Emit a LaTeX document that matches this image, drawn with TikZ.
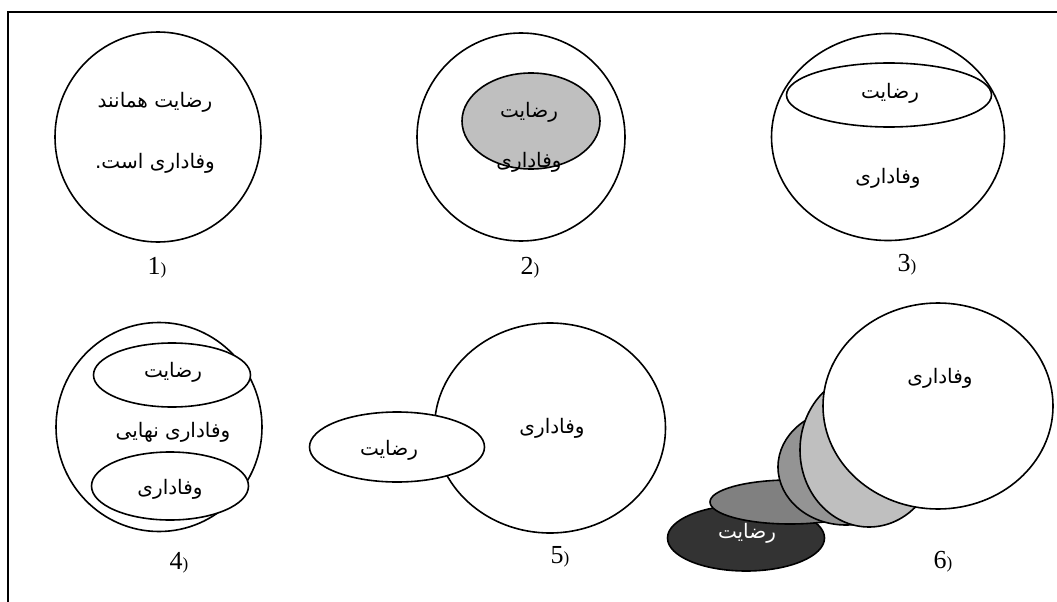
\documentclass[tikz,border=0pt]{standalone}
\usepackage{fontspec}
\setmainfont{Liberation Serif}
\newfontfamily\fafont[Script=Arabic]{DejaVu Sans}
\TeXXeTstate=1
\usetikzlibrary{shapes.geometric}
\newcommand{\fatxt}[1]{{\fafont\fontsize{20}{23}\selectfont\beginR #1\endR}}
\newcommand{\numlbl}[1]{{\fontsize{26}{28}\selectfont #1{\fontsize{17}{20}\selectfont)}}}
\tikzset{
  ell/.style={draw, ellipse, line width=1.6pt, inner sep=0pt, fill=white},
  fa/.style={inner sep=0pt, anchor=center},
  lab/.style={inner sep=0pt, anchor=center},
  frameline/.style={line width=1.6pt}
}
\begin{document}
\begin{tikzpicture}[x=1pt, y=-1pt]
\useasboundingbox (0,0) rectangle (1057,602);
% frame
\coordinate (ftr) at (1057,12);
\coordinate (ftl) at (8,12);
\coordinate (fbl) at (8,602);
\draw[frameline] (ftr) -- (ftl) -- (fbl);

% panel 1
\node[ell, minimum width=206pt, minimum height=210pt] (c1) at (158,137) {};
\node[fa] (t1a) at (155,102) {\fatxt{رضایت همانند}};
\node[fa] (t1b) at (155,163) {\fatxt{وفاداری است.}};
\node[lab] (l1) at (157,268) {\numlbl{1}};

% panel 2
\node[ell, minimum width=208pt, minimum height=208pt] (c2) at (521,137) {};
\node[ell, fill=black!25, minimum width=138pt, minimum height=96pt] (e2) at (531,121) {};
\node[fa] (t2a) at (529,112) {\fatxt{رضایت}};
\node[fa] (t2b) at (529,162) {\fatxt{وفاداری}};
\node[lab] (l2) at (530,268) {\numlbl{2}};

% panel 3
\node[ell, minimum width=233pt, minimum height=207pt] (c3) at (888,137) {};
\node[ell, minimum width=205pt, minimum height=64pt] (e3) at (889,95) {};
\node[fa] (t3a) at (890,93) {\fatxt{رضایت}};
\node[fa] (t3b) at (888,178) {\fatxt{وفاداری}};
\node[lab] (l3) at (907,265) {\numlbl{3}};

% panel 4
\node[ell, minimum width=206pt, minimum height=209pt] (c4) at (159,427) {};
\node[ell, minimum width=157pt, minimum height=64pt] (e4a) at (172,375) {};
\node[ell, minimum width=157pt, minimum height=68pt] (e4b) at (170,486) {};
\node[fa] (t4a) at (173,372) {\fatxt{رضایت}};
\node[fa] (t4b) at (173,432) {\fatxt{وفاداری نهایی}};
\node[fa] (t4c) at (170,489) {\fatxt{وفاداری}};
\node[lab] (l4) at (179,563) {\numlbl{4}};

% panel 5
\node[ell, minimum width=231pt, minimum height=210pt] (c5) at (550,428) {};
\node[ell, minimum width=175pt, minimum height=70pt] (e5) at (397,447) {};
\node[fa] (t5a) at (552,428) {\fatxt{وفاداری}};
\node[fa] (t5b) at (389,450) {\fatxt{رضایت}};
\node[lab] (l5) at (560,557) {\numlbl{5}};

% panel 6
\node[ell, fill=black!80, minimum width=157pt, minimum height=66pt] (e6a) at (746,538) {};
\node[ell, fill=black!50, minimum width=160pt, minimum height=44pt] (e6b) at (790,502) {};
\node[ell, fill=black!42, minimum width=136pt, minimum height=116pt] (e6c) at (846,467) {};
\node[ell, fill=black!25, minimum width=138pt, minimum height=154pt] (e6d) at (869,450) {};
\node[ell, minimum width=230pt, minimum height=206pt] (c6) at (938,406) {};
\node[fa, text=white] (t6b) at (747,533) {\fatxt{رضایت}};
\node[fa] (t6a) at (940,378) {\fatxt{وفاداری}};
\node[lab] (l6) at (943,562) {\numlbl{6}};
\end{tikzpicture}
\end{document}
